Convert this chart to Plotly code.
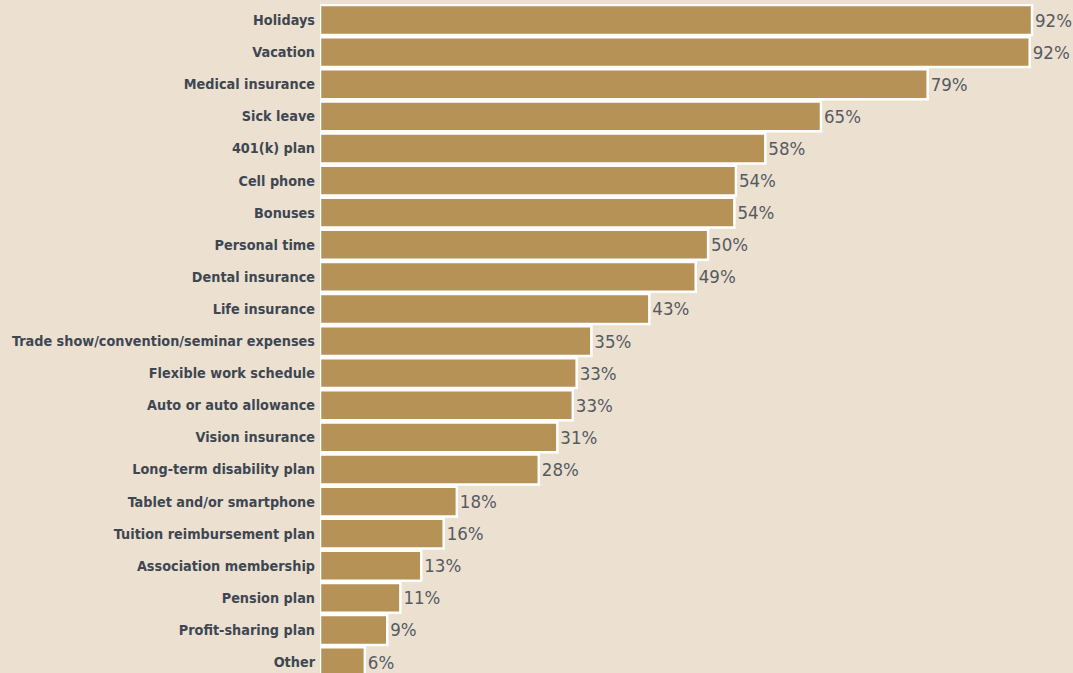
import plotly.graph_objects as go

categories = [
    "Holidays", "Vacation", "Medical insurance", "Sick leave", "401(k) plan",
    "Cell phone", "Bonuses", "Personal time", "Dental insurance", "Life insurance",
    "Trade show/convention/seminar expenses", "Flexible work schedule",
    "Auto or auto allowance", "Vision insurance", "Long-term disability plan",
    "Tablet and/or smartphone", "Tuition reimbursement plan",
    "Association membership", "Pension plan", "Profit-sharing plan", "Other",
]
values = [92.1, 91.8, 78.6, 64.8, 57.6, 53.8, 53.6, 50.2, 48.6, 42.6,
          35.1, 33.2, 32.7, 30.7, 28.3, 17.7, 16.0, 13.1, 10.4, 8.7, 5.8]
value_labels = ["92%", "92%", "79%", "65%", "58%", "54%", "54%", "50%", "49%", "43%",
                "35%", "33%", "33%", "31%", "28%", "18%", "16%", "13%", "11%", "9%", "6%"]

BG = "#ece0d1"
BAR = "#b79256"

fig = go.Figure(go.Bar(
    x=values,
    y=categories,
    orientation="h",
    text=value_labels,
    textposition="outside",
    cliponaxis=False,
    textfont=dict(family="DejaVu Sans Condensed", size=18.5, color="#555b62"),
    marker=dict(color=BAR, line=dict(color="white", width=2.5)),
    width=0.93,
    hoverinfo="skip",
))

fig.update_layout(
    width=1073, height=673,
    paper_bgcolor=BG, plot_bgcolor=BG,
    margin=dict(l=320, r=0, t=4, b=0),
    showlegend=False,
    xaxis=dict(range=[0, 97.4], visible=False, fixedrange=True),
    yaxis=dict(
        type="category",
        automargin=False,
        range=[20.34, -0.5],
        showgrid=False, zeroline=False, showline=False,
        ticks="", ticklabelstandoff=4,
        tickfont=dict(family="DejaVu Sans Condensed", size=14.3,
                      color="#3e4751", weight="bold"),
    ),
)

fig.write_html("out.html")
